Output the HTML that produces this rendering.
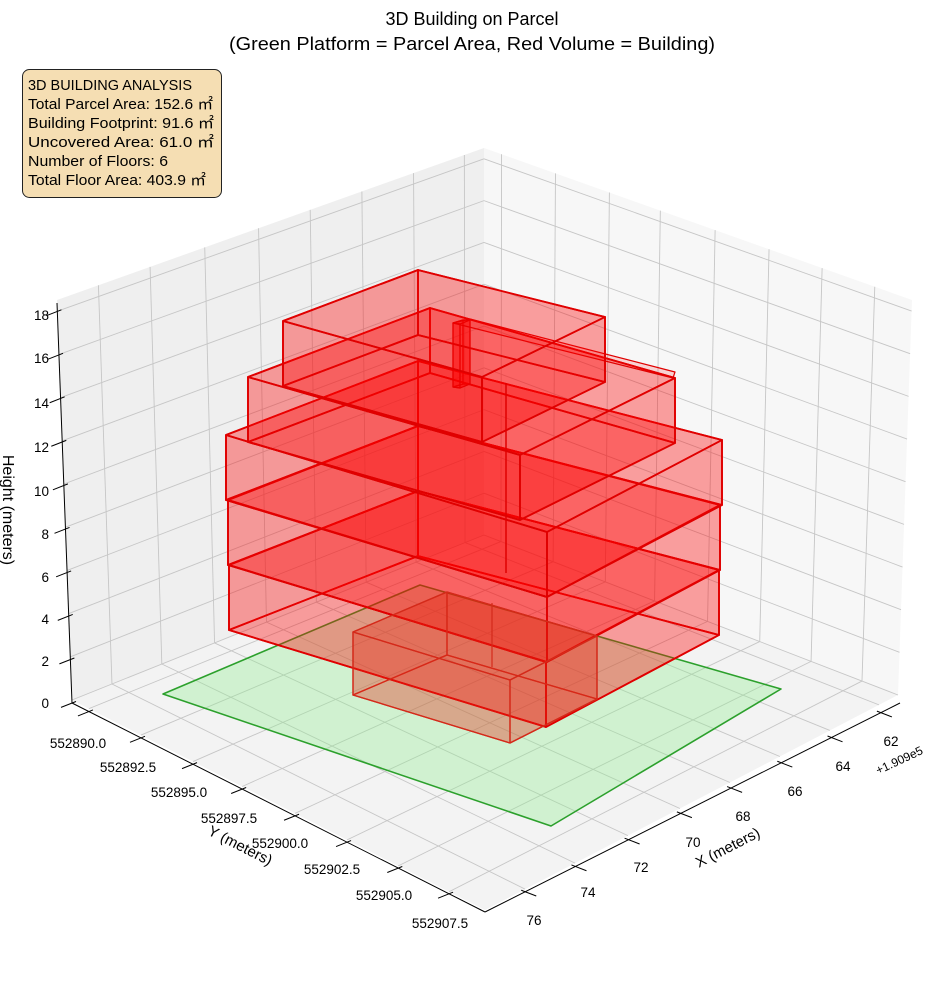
<!DOCTYPE html>
<html><head><meta charset="utf-8"><style>
html,body{margin:0;padding:0;background:#fff;}
svg{display:block;font-family:"Liberation Sans","Noto Sans CJK JP",sans-serif;}
</style></head><body>
<svg id="s" width="944" height="992" viewBox="0 0 944 992" xmlns="http://www.w3.org/2000/svg">
<g id="g"></g>
<text x="472" y="25" font-size="18" text-anchor="middle" fill="#000">3D Building on Parcel</text>
<text x="472" y="50" font-size="18" text-anchor="middle" fill="#000" textLength="486" lengthAdjust="spacingAndGlyphs">(Green Platform = Parcel Area, Red Volume = Building)</text>
<rect x="22.5" y="69.5" width="199" height="128" rx="7" fill="#f5deb3" stroke="#222" stroke-width="1"/>
<g font-size="15" fill="#000">
<text x="28" y="90" textLength="164" lengthAdjust="spacingAndGlyphs">3D BUILDING ANALYSIS</text>
<text x="28" y="109" textLength="185" lengthAdjust="spacingAndGlyphs">Total Parcel Area: 152.6 ㎡</text>
<text x="28" y="128" textLength="186" lengthAdjust="spacingAndGlyphs">Building Footprint: 91.6 ㎡</text>
<text x="28" y="147" textLength="186" lengthAdjust="spacingAndGlyphs">Uncovered Area: 61.0 ㎡</text>
<text x="28" y="166" textLength="140" lengthAdjust="spacingAndGlyphs">Number of Floors: 6</text>
<text x="28" y="185" textLength="178" lengthAdjust="spacingAndGlyphs">Total Floor Area: 403.9 ㎡</text>
</g>
<g font-size="13.5" fill="#000" text-anchor="middle">
<text x="78" y="748">552890.0</text>
<text x="128" y="772">552892.5</text>
<text x="179" y="797">552895.0</text>
<text x="229" y="823">552897.5</text>
<text x="280" y="848">552900.0</text>
<text x="332" y="874">552902.5</text>
<text x="384" y="900">552905.0</text>
<text x="440" y="928">552907.5</text>
<text x="891" y="746">62</text>
<text x="843" y="771">64</text>
<text x="795" y="796">66</text>
<text x="743" y="821">68</text>
<text x="693" y="847">70</text>
<text x="641" y="872">72</text>
<text x="588" y="897">74</text>
<text x="534" y="925">76</text>
</g>
<g font-size="13.5" fill="#000" text-anchor="end">
<text x="49" y="320">18</text>
<text x="49" y="363">16</text>
<text x="49" y="408">14</text>
<text x="49" y="452">12</text>
<text x="49" y="496">10</text>
<text x="49" y="539">8</text>
<text x="49" y="582">6</text>
<text x="49" y="624">4</text>
<text x="49" y="666">2</text>
<text x="49" y="708">0</text>
</g>
<text x="901" y="764" font-size="12" text-anchor="middle" transform="rotate(-25 901 764)">+1.909e5</text>
<text x="238" y="850" font-size="15" text-anchor="middle" transform="rotate(27 238 850)">Y (meters)</text>
<text x="730" y="852" font-size="15" text-anchor="middle" transform="rotate(-27 730 852)">X (meters)</text>
<text x="3" y="510" font-size="16" text-anchor="middle" transform="rotate(90 3 510)">Height (meters)</text>
</svg>
<script>
var G=document.getElementById('g'),NS='http://www.w3.org/2000/svg';
function el(t,a){var e=document.createElementNS(NS,t);for(var k in a)e.setAttribute(k,a[k]);G.appendChild(e);return e;}
function L(a,b,t){return [a[0]+(b[0]-a[0])*t,a[1]+(b[1]-a[1])*t];}
function ln(p,q,c,w){el('line',{x1:p[0],y1:p[1],x2:q[0],y2:q[1],stroke:c,'stroke-width':w});}
function pg(ps,f,s,w){el('polygon',{points:ps.map(function(p){return p.join(',')}).join(' '),fill:f,stroke:s||'none','stroke-width':w||0,'stroke-linejoin':'round'});}
var LT=[57,300],BT=[484,148],RT=[912,300],LB=[72,700],BB=[484,535],RB=[898,695],FB=[485,910];
pg([LT,BT,BB,LB],'#efefef');pg([BT,RT,RB,BB],'#f7f7f7');pg([LB,BB,RB,FB],'#f3f3f3');
var xf=[0.097,0.218,0.346,0.472,0.593,0.714,0.835,0.954];
var yf=[0.041,0.167,0.293,0.412,0.540,0.666,0.790,0.913];
var zs=[];for(var z=0;z<=18;z+=2)zs.push(z*21.6/400);
var gc='#c6c6c6',gw=0.9;
zs.forEach(function(t){ln(L(LB,LT,t),L(BB,BT,t),gc,gw);ln(L(BB,BT,t),L(RB,RT,t),gc,gw);});
xf.forEach(function(t){ln(L(LB,BB,t),L(LT,BT,t),gc,gw);ln(L(LB,BB,t),L(FB,RB,t),gc,gw);});
yf.forEach(function(t){ln(L(BB,RB,t),L(BT,RT,t),gc,gw);ln(L(LB,FB,t),L(BB,RB,t),gc,gw);});
var YA0=[72,703],YA1=[485,912],XA1=[900,703],ZA1=[57,303];
ln(YA0,YA1,'#000',1);ln(YA1,XA1,'#000',1);ln(YA0,ZA1,'#000',1);
yf.forEach(function(t){var p=L(YA0,YA1,t);ln([p[0]+4,p[1]-1.6],[p[0]-11,p[1]+4.4],'#000',1);});
xf.forEach(function(t){var p=L(YA1,XA1,t);ln([p[0]-4,p[1]-1.5],[p[0]+11,p[1]+4.3],'#000',1);});
zs.forEach(function(t){var p=L(YA0,[57,300],t);ln([p[0]+4,p[1]-1.5],[p[0]-11,p[1]+4.4],'#000',1);});
pg([[163,694],[420,585],[781,689],[551,826]],'rgba(144,238,144,0.35)','#2ca02c',1.6);
function box(l,b,r,f,h,fill,st,sw){
 var d=function(p){return [p[0],p[1]+h];};
 var l2=d(l),b2=d(b),r2=d(r),f2=d(f);
 var faces=[[l2,b2,r2,f2],[l,b,b2,l2],[b,r,r2,b2],[l,f,f2,l2],[f,r,r2,f2],[l,b,r,f]];
 faces.forEach(function(q){pg(q,fill,st,sw);});
}
var RF='rgba(255,0,0,0.2)',RS='#e00000';
box([229,565],[418,491],[719,570],[546,662],65,RF,RS,1.8);
box([228,500],[418,426],[720,505],[547,597],65,RF,RS,1.8);
box([226,435],[418,361],[722,440],[547,532],65,RF,RS,1.8);
box([248,377],[430,308],[675,378],[520,455],65,RF,RS,1.8);
box([453,323],[463,320],[470,320],[460,324],64,'rgba(255,0,0,0.3)',RS,1.2);
pg([[453,323],[470,319],[675,372],[673,378]],'rgba(255,0,0,0.15)',RS,1.2);
box([283,321],[418,270],[605,317],[482,377],65,RF,RS,1.8);
ln([506,383],[506,573],RS,1.5);
box([353,632],[447,592],[597,636],[510,680],63,'rgba(230,40,20,0.2)','#d42a1a',1.3);
ln([492,603],[492,667],'#d42a1a',1.2);
</script>
</body></html>
